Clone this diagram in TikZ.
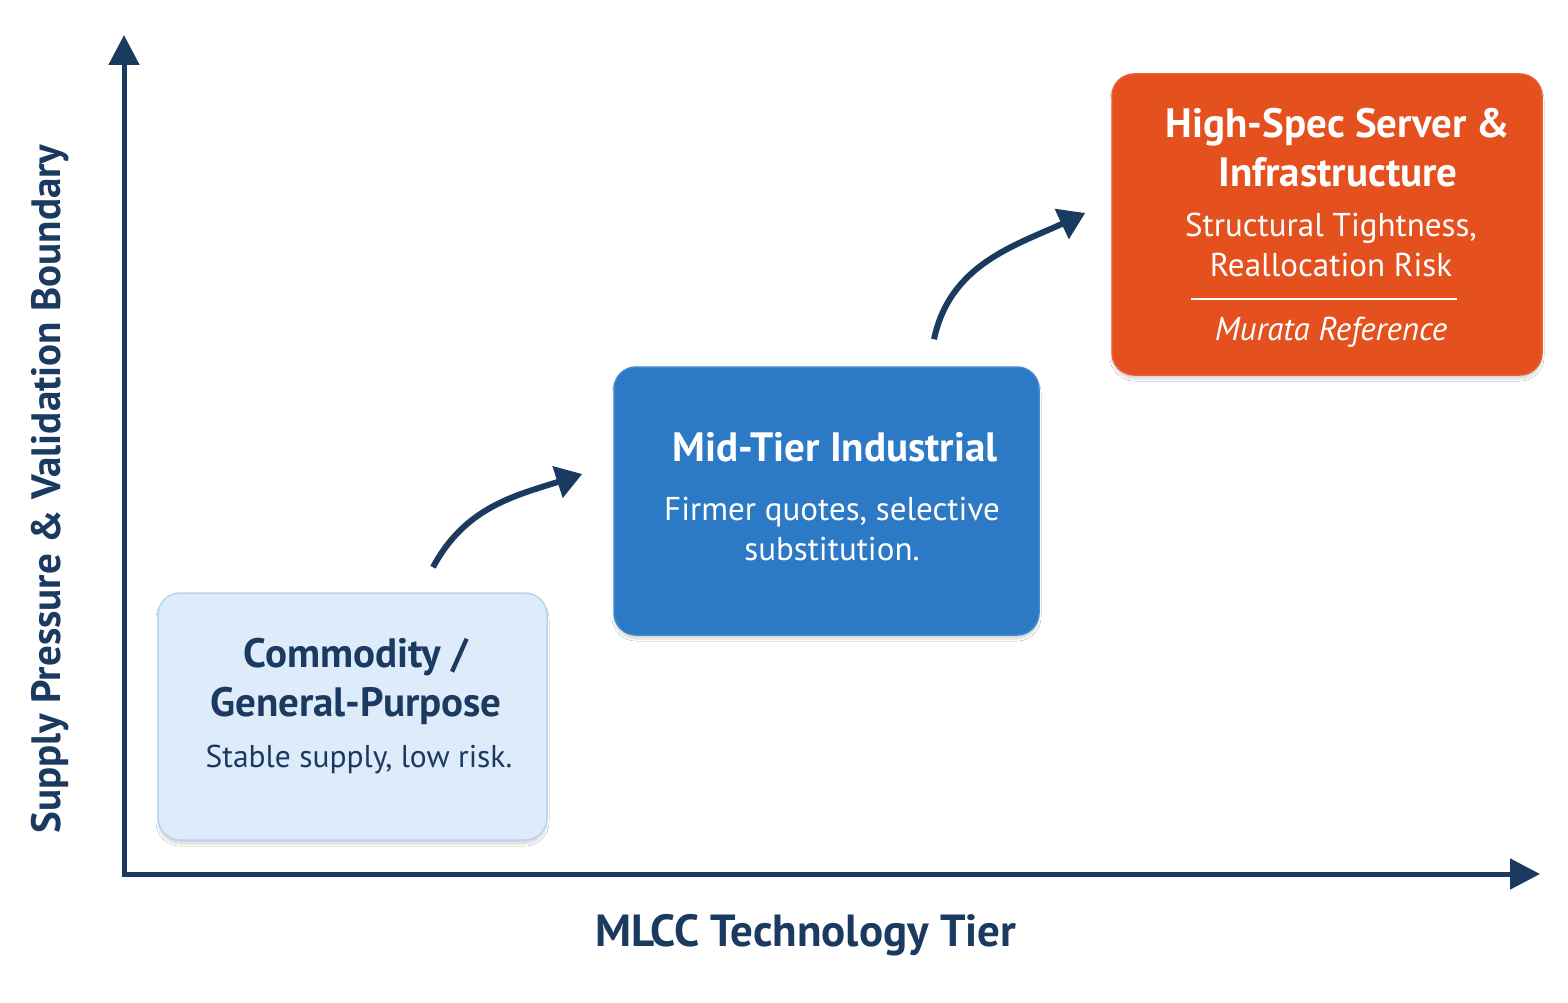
\documentclass[tikz,border=0pt]{standalone}
\usepackage{fontspec}
\setmainfont{PT Sans}
\usepackage{xcolor}
\usetikzlibrary{arrows.meta,positioning,calc,shadows.blur}
\definecolor{axisnavy}{RGB}{26,58,96}
\definecolor{paleblue}{RGB}{221,235,250}
\definecolor{paleedge}{RGB}{184,212,240}
\definecolor{tierblue}{RGB}{44,122,198}
\definecolor{tierorange}{RGB}{228,80,30}

\begin{document}
\begin{tikzpicture}[
  x=1pt, y=-1pt,
  axisline/.style={draw=axisnavy, line width=5pt, -{Triangle[length=30pt,width=30pt]}},
  steparrow/.style={draw=axisnavy, line width=6pt, -{Triangle[length=26pt,width=32pt]}},
  tierbox/.style={rectangle, rounded corners=22pt, line width=1.5pt,
    blur shadow={shadow xshift=0pt, shadow yshift=-4pt, shadow blur steps=8, shadow opacity=15}},
  tiertitle/.style={font=\fontsize{41}{49}\selectfont\bfseries, align=center, inner sep=0pt},
  tiernote/.style={font=\fontsize{33}{40}\selectfont, align=center, inner sep=0pt},
  axislabel/.style={font=\fontsize{45}{52}\selectfont\bfseries, text=axisnavy, inner sep=0pt}
]
  \useasboundingbox[fill=white] (0,0) rectangle (1568,1003);

  % axes
  \coordinate (origin) at (124,874);
  \coordinate (ytip) at (124,35);
  \coordinate (xtip) at (1540,874);
  \draw[axisline] (origin) -- (ytip);
  \draw[axisline] ([xshift=-2.5pt]origin) -- (xtip);
  \node[axislabel] (xlabel) at (806,935) {MLCC Technology Tier};
  \node[axislabel, font=\fontsize{41}{48}\selectfont\bfseries, rotate=90] (ylabel) at (50,489)
    {Supply Pressure \& Validation Boundary};

  % tier boxes
  \node[tierbox, fill=paleblue, draw=paleedge, minimum width=389pt, minimum height=247pt]
    (commodity) at (352.5,716.5) {};
  \node[tierbox, fill=tierblue, draw=tierblue!90!white, minimum width=425pt, minimum height=268pt]
    (midtier) at (826.5,501) {};
  \node[tierbox, fill=tierorange, draw=tierorange!90!white, minimum width=430pt, minimum height=301pt]
    (highspec) at (1327,224.5) {};

  % box texts
  \node[tiertitle, text=axisnavy] (commodityT) at (356,681) {Commodity /\\General-Purpose};
  \node[tiernote, text=axisnavy, font=\fontsize{31.5}{38}\selectfont] (commodityN) at (359,760) {Stable supply, low risk.};

  \node[tiertitle, text=white] (midtierT) at (835,447) {Mid-Tier Industrial};
  \node[tiernote, text=white] (midtierN) at (832,529) {Firmer quotes, selective\\substitution.};

  \node[tiertitle, text=white] (highspecT) at (1338,148) {High-Spec Server \&\\Infrastructure};
  \node[tiernote, text=white] (highspecN) at (1331,245) {Structural Tightness,\\Reallocation Risk};
  \draw[white, line width=1.5pt] ([xshift=-136pt]highspec.center |- 0,299) coordinate (rulel)
    -- ([xshift=130pt]highspec.center |- 0,299) coordinate (ruler);
  \node[tiernote, text=white, font=\fontsize{33}{40}\selectfont\itshape] (highspecR) at (1331,332) {Murata Reference};

  % step arrows
  \draw[steparrow] ([xshift=80.5pt,yshift=25pt]commodity.north) to[out=62, in=198]
    ([xshift=-31pt,yshift=27pt]midtier.west);
  \draw[steparrow] ([xshift=107.5pt,yshift=27pt]midtier.north) to[out=78, in=205]
    ([xshift=-26pt,yshift=11.5pt]highspec.west);
\end{tikzpicture}
\end{document}
